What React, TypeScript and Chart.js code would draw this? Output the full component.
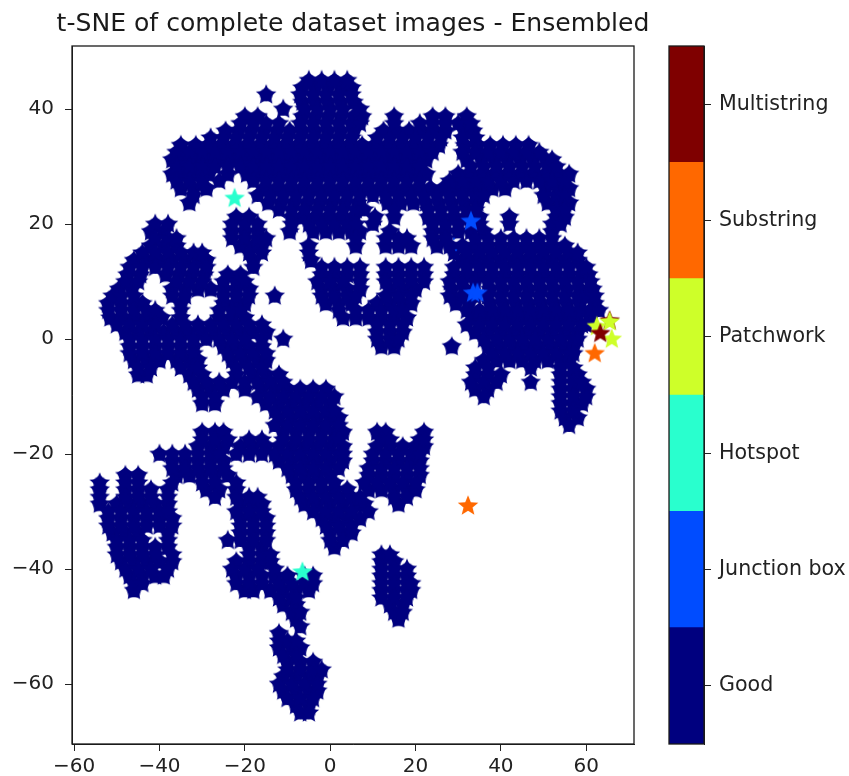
import React, { useEffect, useRef } from "react";
import { Chart, registerables } from "chart.js";
Chart.register(...registerables);

const titleText = "t-SNE of complete dataset images - Ensembled";
const xTicks = [-60, -40, -20, 0, 20, 40, 60];
const yTicks = [-60, -40, -20, 0, 20, 40];
const classLabels = ["Good", "Junction box", "Hotspot", "Patchwork", "Substring", "Multistring"];
const classColors = ["#00007f", "#004cff", "#29ffce", "#ceff29", "#ff6800", "#7f0000"];

const goodRowY = [45,42.5,40,37.5,35,32.5,30,27.5,25,22.5,20,17.5,15,12.5,10,7.5,5,2.5,0,-2.5,-5,-7.5,-10,-12.5,-15,-17.5,-20,-22.5,-25,-27.5,-30,-32.5,-35,-37.5,-40,-42.5,-45,-47.5,-50,-52.5,-55,-57.5,-60,-62.5,-65];
const goodRowX = [
[-5,-2,1,4],
[-15,-7,-4,-1,2,5],
[-11,-6,-3,0,3,7],
[-21,-18,-15,-12,-7,-4,-1,2,5,7,15,21,24,27,30,33],
[-28,-25,-22,-19,-16,-13,-10,-7,-4,-1,2,5,11,14,17,20,23,26,31,34],
[-36,-33,-30,-27,-24,-21,-18,-15,-12,-9,-6,-3,0,3,6,9,12,15,18,21,24,31,34,37,40,43,46,49],
[-36,-33,-30,-27,-24,-21,-18,-15,-12,-9,-6,-3,0,3,6,9,12,15,18,21,33,36,39,42,45,48,51,53],
[-36,-33,-30,-26,-18,-15,-12,-9,-6,-3,0,3,6,9,12,15,18,21,28,31,34,37,40,43,46,49,52,55],
[-32,-17,-14,-11,-8,-5,-2,1,4,7,10,13,16,19,22,25,28,31,34,36,50,53,55],
[-12,-9,-6,-3,0,3,6,8,15,23,26,29,32,34,53,55],
[-41,-38,-23,-20,-17,-9,-5,-2,1,4,6,10,24,27,30,33,35,42,52,54],
[-41,-38,-36,-23,-20,-17,-15,6,13,16,18,24,27,34,37,40,43,46,49,52],
[-44,-41,-38,-35,-32,-30,-19,-16,-5,29,32,35,38,41,44,47,50,53,56,58],
[-47,-44,-41,-38,-35,-32,-29,-18,-2,1,4,7,13,16,19,22,29,32,35,38,41,44,47,50,53,56,59,60],
[-48,-45,-36,-33,-30,-25,-22,-20,-3,0,3,7,13,16,19,22,28,31,34,37,40,43,46,49,52,55,58,61],
[-51,-49,-46,-37,-34,-25,-22,-19,-13,-2,1,4,6,13,16,19,28,31,34,37,40,43,46,49,52,55,58,60,62],
[-52,-49,-46,-43,-41,-35,-26,-23,-21,2,6,9,12,15,17,32,35,38,41,44,47,50,53,56,59,61,63],
[-50,-47,-44,-41,-37,-34,-31,-28,-25,-22,-19,-16,11,14,17,32,35,38,41,44,47,50,53,56,59,60],
[-47,-44,-41,-38,-35,-32,-29,-26,-23,-20,-16,-11,11,14,16,36,39,42,45,48,51,54,57,58],
[-47,-44,-41,-38,-35,-32,-24,-21,-18,-15,38,41,44,47,50,53,56,57],
[-45,-42,-35,-32,-31,-22,-19,-16,34,37,47,54,57],
[-32,-29,-26,-23,-20,-17,-14,-11,33,36,39,47,54,57,59],
[-30,-27,-17,-14,-11,-8,-5,-2,1,36,54,57,60],
[-13,-10,-7,-4,-1,1,54,57],
[-13,-10,-7,-4,-1,2,56],
[-30,-27,-24,-19,-16,-11,-8,-5,-2,1,2,12,14,21,22],
[-40,-37,-34,-31,-28,-26,-22,-19,-16,-13,-10,-7,-4,-1,2,3,10,13,16,19,21],
[-37,-34,-31,-28,-25,-10,-7,-4,-1,2,9,12,15,18,21],
[-54,-48,-45,-37,-30,-27,-22,-8,-5,-2,1,8,11,14,17,20],
[-54,-48,-45,-42,-38,-27,-22,-19,-17,-7,-4,-1,2,5,7,15,18],
[-52,-49,-46,-43,-40,-38,-22,-19,-16,-4,-1,2,5,9],
[-52,-49,-46,-43,-40,-37,-21,-18,-15,-1,2,5],
[-50,-47,-44,-38,-24,-21,-18,-15,0,3],
[-50,-47,-44,-41,-37,-19,-16,-14,12,14],
[-48,-45,-42,-38,-23,-20,-17,-13,12,15,18],
[-46,-44,-22,-19,-16,-12,-9,-6,-4,12,15,18,19],
[-12,-9,-8,12,15,18],
[-9,-7,15,17],
[-7],
[-12,-10,-8],
[-11,-8],
[-10,-7,-4,-2],
[-12,-9,-6,-3],
[-10,-7,-4],
[-7,-5],
];

const goodFillY = [43.7,41.2,38.7,36.2,33.7,31.2,28.7,26.2,23.7,21.2,18.7,16.2,13.7,11.2,8.7,6.2,3.7,1.2,-1.3,-3.7,-6.2,-8.7,-11.2,-13.7,-16.2,-18.7,-21.2,-23.7,-26.2,-28.7,-31.2,-33.7,-36.2,-38.7,-41.2,-43.7,-46.2,-48.7,-51.2,-53.7,-56.2,-58.7,-61.2,-63.7];
const goodFillX = [
[-6.5,-3.5,-0.5,2.5,5],
[-6.5,-3.5,-0.5,2.5,5.5],
[-20,-17,-6.5,-3.5,-0.5,2.5,5.5,7.5,15,24,27,32],
[-24.5,-21.5,-18.5,-15.5,-12.5,-9.5,-6.5,-3.5,-0.5,2.5,5.5,12.5,15.5,18.5,21.5,24.5,27,31.5,33.5],
[-35,-31.5,-28.5,-25.5,-22.5,-19.5,-16.5,-13.5,-10.5,-7.5,-4.5,-1.5,1.5,4.5,7.5,10.5,13.5,16.5,19.5,22.5,25.5,31.5,34.5,37.5,40.5,43.5,46.5],
[-37,-34.5,-31.5,-28.5,-25.5,-22.5,-19.5,-16.5,-13.5,-10.5,-7.5,-4.5,-1.5,1.5,4.5,7.5,10.5,13.5,16.5,19.5,22.5,32,35.5,38.5,41.5,44.5,47.5,50.5,52],
[-37,-34.5,-31.5,-28.5,-24,-19.5,-16.5,-13.5,-10.5,-7.5,-4.5,-1.5,1.5,4.5,7.5,10.5,13.5,16.5,19.5,22.5,30,32.5,35.5,38.5,41.5,44.5,47.5,50.5,53.5,56],
[-35,-32,-29,-15.5,-12.5,-9.5,-6.5,-3.5,-0.5,2.5,5.5,8.5,11.5,14.5,17.5,20.5,23.5,26.5,29.5,32.5,35.5,38,41,50.5,53.5,56],
[-33,-14.5,-11.5,-8.5,-5.5,-2.5,0.5,3.5,6.5,13.5,16.5,19.5,22.5,25.5,28.5,31.5,34.5,51,54,56],
[-22,-19,-9,-6.5,-3.5,-0.5,2.5,5.5,10.5,15,23,26,29,32,35,42,53,55],
[-42,-39,-23,-20,-17,-9.5,-4,-1,2,5,7,14,24,27,30,33,36,52],
[-42,-39,-36,-21,-18,-16,-5,6,13,16,19,25,28,31,34,37,40,43,46,49,52,55],
[-46,-43,-40,-37,-34,-31,-29,-18,-4.5,31,34,37,40,43,46,49,52,55,58],
[-47.5,-44.5,-38.5,-35.5,-32.5,-29.5,-24,-21,-2,1,4,7,13,16,19,22,29,32,35,38,41,44,47,50,53,56,59,60.5],
[-49.5,-46.5,-37,-34,-31,-28,-25,-22,-19,-2,1,4,7,14,17,20,28.5,31.5,37.5,40.5,43.5,46.5,49.5,52.5,55.5,58.5,61.5],
[-52,-49,-46,-44,-35,-25,-22,-20,-1,2,5,11,14,17,19,29.5,32.5,37.5,40.5,43.5,46.5,49.5,52.5,55.5,58.5,62],
[-51.5,-48.5,-45.5,-42.5,-39.5,-35,-26,-23,-20,3,6,9,12,15,18,33.5,36.5,39.5,42.5,45.5,48.5,51.5,54.5,57.5,61],
[-48,-45,-42,-39,-36,-33,-30,-27,-24,-21,-18,-15,11,14,17,34,37,40,43,46,49,52,55,58],
[-47,-44,-41,-38,-35,-32,-25,-22,-19,-16,12,15,28.5,37,40,43,46,49,52,55,57],
[-46,-43,-40,-36,-33,-31,-23,-20,-17,-15,36,39,42,45,48,51,54,56],
[-45,-43,-33,-30,-22,-18,-15,-12,34,37,40,54,57,58],
[-31,-28,-25,-20,-16,-13,-10,-7,-4,-1,34,37,54,57,60],
[-30,-27,-15,-12,-9,-6,-3,0,54,57,59],
[-12,-9,-6,-3,0,2,55,58],
[-30,-27,-25,-11,-8,-5,-2,1,3,11,13,22],
[-31,-28,-25,-21,-18,-15,-12,-9,-6,-3,0,3,11,14,17,20,22],
[-37,-34,-31,-28,-25,-12,-9,-6,-3,0,3,10,13,16,19,21],
[-48,-45,-36,-33,-30,-27,-24,-9,-6,-3,0,9,12,15,18,21],
[-54,-48,-45,-42,-38,-29,-26,-22,-8,-5,-2,1,4,9,12,15,18,20],
[-54,-50,-47,-44,-41,-38,-21,-18,-16,-6,-3,0,3,6,8,16],
[-52,-49,-46,-43,-40,-37,-21,-18,-15,-2,1,4,7],
[-51,-48,-45,-38,-21,-18,-15,0,3,5],
[-50,-47,-44,-41,-38,-19,-16,1],
[-49,-46,-43,-40,-37,-22,-19,-16,-14,12,15],
[-47,-44,-41,-39,-22,-19,-16,-13,-10,-6,-4,12,15,18],
[-46,-20,-18,-14,-11,-8,-5,12,15,18,19],
[-11,-8,14,17],
[-8,16],
[-12],
[-12,-9,-7],
[-10,-7,-4],
[-11,-8,-5,-3],
[-11,-8,-5,-3],
[-8,-5],
];

const junctionX = [33, 33.5, 34.5];
const junctionY = [20.5, 8, 8];
const junctionTinyX = [29, 29.5];
const junctionTinyY = [17.5, 15.5];
const hotspotX = [-22.4, -6.5];
const hotspotY = [24.5, -40.5];
const patchworkX = [62.5, 65.5, 66];
const patchworkY = [2.2, 3, 0];
const substringX = [32.3, 62];
const substringY = [-29, -2.5];
const multistringX = [65.5, 63.3];
const multistringY = [3.2, 1];

function starImage(color: string, R: number, ratio = 0.44) {
  const pad = 2;
  const size = Math.ceil(2 * R + 2 * pad);
  const c = document.createElement("canvas");
  c.width = size;
  c.height = size;
  const g = c.getContext("2d")!;
  const cx = size / 2;
  const cy = size / 2;
  g.beginPath();
  for (let i = 0; i < 10; i++) {
    const r = i % 2 === 0 ? R : R * ratio;
    const a = -Math.PI / 2 + (i * Math.PI) / 5;
    const px = cx + r * Math.cos(a);
    const py = cy + r * Math.sin(a);
    if (i === 0) g.moveTo(px, py);
    else g.lineTo(px, py);
  }
  g.closePath();
  g.fillStyle = color;
  g.fill();
  return c;
}

const pts = (xs: number[], ys: number[]) => xs.map((x, i) => ({ x, y: ys[i] }));
const rowPts = (rows: number[][], ys: number[]) => rows.flatMap((row, i) => row.map((x) => ({ x, y: ys[i] })));
const minus = (v: any) => String(v).replace("-", "\u2212");
const tickFont = { family: "'DejaVu Sans'", size: 20 };
const barFont = { family: "'DejaVu Sans'", size: 20.6 };
const ink = "#222222";

const framePlugin = {
  id: "frame",
  afterDraw(chart: any) {
    const { ctx, chartArea: a } = chart;
    ctx.save();
    ctx.strokeStyle = "#1a1a1a";
    ctx.lineWidth = 1.3;
    ctx.strokeRect(a.left, a.top, a.right - a.left, a.bottom - a.top);
    ctx.restore();
  },
};

const titlePlugin = {
  id: "axesTitle",
  afterDraw(chart: any) {
    const { ctx, chartArea: a } = chart;
    ctx.save();
    ctx.fillStyle = "#1a1a1a";
    ctx.font = "25.1px 'DejaVu Sans'";
    ctx.textAlign = "center";
    ctx.textBaseline = "middle";
    ctx.fillText(titleText, (a.left + a.right) / 2, 24);
    ctx.restore();
  },
};

export default function App() {
  const mainRef = useRef<HTMLCanvasElement>(null);
  const barRef = useRef<HTMLCanvasElement>(null);

  useEffect(() => {
    const rowLayer = rowPts(goodRowX, goodRowY);
    const fillLayer = rowPts(goodFillX, goodFillY);
    const ds = (label: string, data: any[], color: string, R = 10.8, ratio = 0.44) => ({
      label,
      data,
      pointStyle: starImage(color, R, ratio),
      pointBackgroundColor: color,
      showLine: false,
      clip: false,
    });
    const main = new Chart(mainRef.current!, {
      type: "scatter",
      data: {
        // Chart.js paints the last dataset first, so the top-most class comes first here.
        datasets: [
          ds(classLabels[1], pts(junctionX, junctionY), classColors[1]),
          ds(classLabels[1] + " small", pts(junctionTinyX, junctionTinyY), classColors[1], 1.6),
          ds(classLabels[2], pts(hotspotX, hotspotY), classColors[2]),
          ds(classLabels[4], pts(substringX, substringY), classColors[4]),
          ds(classLabels[5] + " top", pts([multistringX[1]], [multistringY[1]]), classColors[5]),
          ds(classLabels[3], pts(patchworkX, patchworkY), classColors[3]),
          ds(classLabels[5], pts([multistringX[0]], [multistringY[0]]), classColors[5]),
          ds(classLabels[0], rowLayer, classColors[0]),
          ds(classLabels[0] + " dense", fillLayer, classColors[0]),
          ds(classLabels[0] + " core", fillLayer, classColors[0], 8.5, 0.8),
          ds(classLabels[0] + " row core", rowLayer, classColors[0], 7.5, 0.85),
        ],
      },
      options: {
        responsive: false,
        animation: false,
        layout: { padding: { left: 0, right: 215, top: 46, bottom: 0 } },
        plugins: {
          legend: { display: false },
          tooltip: { enabled: false },
        },
        scales: {
          x: {
            type: "linear",
            min: -60.5,
            max: 71.2,
            afterFit: (s: any) => { s.height = 32; },
            afterBuildTicks: (s: any) => { s.ticks = xTicks.map((value) => ({ value })); },
            grid: { drawOnChartArea: false, drawTicks: true, tickLength: 7, color: ink },
            border: { color: ink },
            ticks: { callback: minus, color: ink, font: tickFont, padding: 4, maxRotation: 0, autoSkip: false },
          },
          y: {
            type: "linear",
            min: -70.4,
            max: 51,
            afterFit: (s: any) => { s.width = 72; },
            afterBuildTicks: (s: any) => { s.ticks = yTicks.map((value) => ({ value })); },
            grid: { drawOnChartArea: false, drawTicks: true, tickLength: 7, color: ink },
            border: { color: ink },
            ticks: { callback: minus, color: ink, font: tickFont, padding: 11, autoSkip: false },
          },
        },
      },
      plugins: [framePlugin, titlePlugin],
    } as any);

    const bar = new Chart(barRef.current!, {
      type: "bar",
      data: {
        labels: [""],
        datasets: classLabels.map((label, i) => ({
          label,
          data: [1],
          backgroundColor: classColors[i],
          barPercentage: 1,
          categoryPercentage: 1,
          borderWidth: 0,
        })),
      },
      options: {
        responsive: false,
        animation: false,
        layout: { padding: { left: 669, right: 0, top: 46, bottom: 32 } },
        plugins: { legend: { display: false }, tooltip: { enabled: false } },
        scales: {
          x: { stacked: true, display: false },
          y: {
            stacked: true,
            position: "right",
            min: 0,
            max: classLabels.length,
            afterFit: (s: any) => { s.width = 145; },
            afterBuildTicks: (s: any) => { s.ticks = classLabels.map((_, i) => ({ value: i + 0.5 })); },
            grid: { drawOnChartArea: false, drawTicks: true, tickLength: 7, color: ink },
            border: { color: ink },
            ticks: {
              autoSkip: false,
              color: ink,
              font: barFont,
              padding: 8,
              callback: (v: any) => classLabels[Math.floor(Number(v))],
            },
          },
        },
      },
      plugins: [framePlugin],
    } as any);

    return () => {
      main.destroy();
      bar.destroy();
    };
  }, []);

  const style: React.CSSProperties = { position: "absolute", left: 0, top: 0, pointerEvents: "none", filter: "blur(0.4px)" };
  return (
    <div style={{ position: "fixed", left: 0, top: 0, width: 849, height: 776, background: "#fff", overflow: "hidden" }}>
      <canvas ref={mainRef} width={849} height={776} style={style} />
      <canvas ref={barRef} width={849} height={776} style={style} />
    </div>
  );
}
